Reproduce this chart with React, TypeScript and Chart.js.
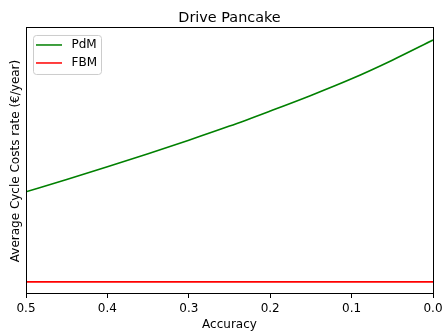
import { useEffect, useRef } from "react";
import { Chart, registerables } from "chart.js";

Chart.register(...registerables);

// Accuracy values along the (reversed) x axis
const accuracy = [0.5, 0.45, 0.4, 0.35, 0.3, 0.25, 0.2, 0.15, 0.1, 0.05, 0.0];
// Average cycle cost rate, predictive maintenance (€/year)
const pdmCost = [4240, 4545, 4858, 5183, 5520, 5870, 6245, 6632, 7045, 7507, 8007];
// Average cycle cost rate, failure-based maintenance (€/year)
const fbmCost = [2000, 2000, 2000, 2000, 2000, 2000, 2000, 2000, 2000, 2000, 2000];
// Tick labels on the accuracy axis
const xTicks = [0.5, 0.4, 0.3, 0.2, 0.1, 0.0];

const FONT = "'DejaVu Sans', sans-serif";

// Box around the whole plot area
const framePlugin = {
  id: "frame",
  afterDatasetsDraw(chart: any) {
    const { ctx, chartArea } = chart;
    const l = Math.floor(chartArea.left) + 0.5;
    const t = Math.floor(chartArea.top) + 0.5;
    const r = Math.floor(chartArea.right) + 0.5;
    const b = Math.floor(chartArea.bottom) - 0.5;
    ctx.save();
    ctx.strokeStyle = "#000";
    ctx.lineWidth = 1;
    ctx.strokeRect(l, t, r - l, b - t);
    ctx.restore();
  },
};

// Legend box in the upper-left corner of the plot
const legendPlugin = {
  id: "cornerLegend",
  afterDatasetsDraw(chart: any) {
    const { ctx, chartArea } = chart;
    const x = chartArea.left + 7;
    const y = chartArea.top + 7;
    const w = 68;
    const h = 39;
    ctx.save();
    ctx.beginPath();
    (ctx as any).roundRect(x + 0.5, y + 0.5, w, h, 3);
    ctx.fillStyle = "rgba(255,255,255,0.8)";
    ctx.fill();
    ctx.strokeStyle = "#cccccc";
    ctx.lineWidth = 1;
    ctx.stroke();
    chart.data.datasets.forEach((ds: any, i: number) => {
      const cy = y + 10 + i * 18;
      ctx.beginPath();
      ctx.moveTo(x + 3, cy);
      ctx.lineTo(x + 29, cy);
      ctx.strokeStyle = ds.borderColor;
      ctx.lineWidth = 1.5;
      ctx.stroke();
      ctx.fillStyle = "#000";
      ctx.font = `12px ${FONT}`;
      ctx.textBaseline = "middle";
      ctx.textAlign = "left";
      ctx.fillText(ds.label, x + 38.5, cy);
    });
    ctx.restore();
  },
};

export default function App() {
  const canvasRef = useRef<HTMLCanvasElement | null>(null);

  useEffect(() => {
    const canvas = canvasRef.current;
    if (!canvas) return;
    const chart = new Chart(canvas, {
      type: "line",
      data: {
        datasets: [
          {
            label: "PdM",
            data: accuracy.map((a, i) => ({ x: a, y: pdmCost[i] })),
            borderColor: "#008000",
            borderWidth: 1.6,
            pointRadius: 0,
            cubicInterpolationMode: "monotone",
            fill: false,
          },
          {
            label: "FBM",
            data: accuracy.map((a, i) => ({ x: a, y: fbmCost[i] })),
            borderColor: "#ff0000",
            borderWidth: 1.6,
            pointRadius: 0,
            fill: false,
          },
        ],
      },
      plugins: [framePlugin, legendPlugin],
      options: {
        animation: false,
        responsive: false,
        maintainAspectRatio: false,
        devicePixelRatio: 1,
        layout: { padding: { top: 0, right: 10, bottom: 0, left: 0 } },
        plugins: {
          legend: { display: false },
          tooltip: { enabled: false },
          title: {
            display: true,
            text: "Drive Pancake",
            fullSize: false,
            color: "#000",
            font: { family: FONT, size: 14.4, weight: "normal" },
            padding: { top: 9.4, bottom: 1.3 },
          },
        },
        scales: {
          x: {
            type: "linear",
            reverse: true,
            min: 0,
            max: 0.5,
            offset: false,
            afterBuildTicks: (scale: any) => {
              scale.ticks = xTicks.map((v) => ({ value: v }));
            },
            afterFit: (scale: any) => {
              scale.height = 42;
              scale.paddingLeft = 0;
              scale.paddingRight = 0;
            },
            ticks: {
              color: "#000",
              font: { family: FONT, size: 12 },
              padding: 3.5,
              maxRotation: 0,
              autoSkip: false,
              callback: (v: any) => Number(v).toFixed(1),
            },
            grid: {
              display: true,
              drawOnChartArea: false,
              drawTicks: true,
              tickLength: 4,
              color: "#000",
            },
            border: { display: false },
            title: {
              display: true,
              text: "Accuracy",
              color: "#000",
              font: { family: FONT, size: 12 },
              padding: { top: 0, bottom: 3.5 },
            },
          },
          y: {
            type: "linear",
            min: 1700,
            max: 8307,
            afterFit: (scale: any) => {
              scale.width = 26;
              scale.paddingTop = 0;
              scale.paddingBottom = 0;
            },
            ticks: { display: false },
            grid: { display: false },
            border: { display: false },
            title: {
              display: true,
              text: "Average Cycle Costs rate (€/year)",
              color: "#000",
              font: { family: FONT, size: 12 },
              padding: { top: 8.5, bottom: 0 },
            },
          },
        },
      },
    });
    return () => chart.destroy();
  }, []);

  return (
    <div style={{ position: "absolute", left: 0, top: 0, width: 443, height: 336 }}>
      <canvas ref={canvasRef} width={443} height={336} style={{ display: "block" }} />
    </div>
  );
}
